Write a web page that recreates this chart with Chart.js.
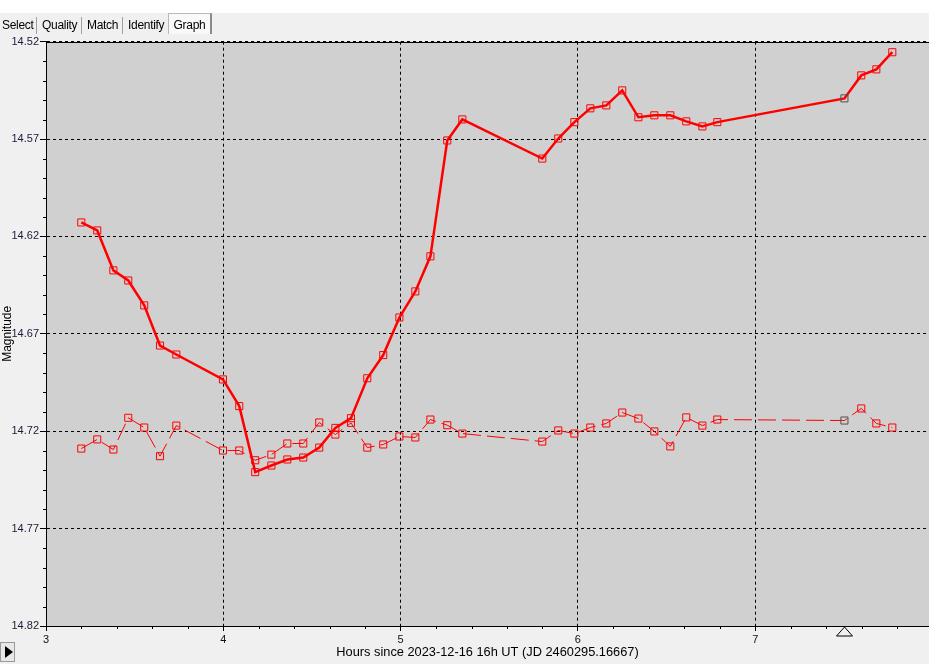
<!DOCTYPE html>
<html>
<head>
<meta charset="utf-8">
<script src="https://cdn.jsdelivr.net/npm/chart.js@4"></script>
<style>
  html, body { margin:0; padding:0; background:#f0f0f0; width:929px; height:664px; overflow:hidden; font-family:"Liberation Sans", Arial, sans-serif; }
  #topstrip { position:absolute; left:0; top:0; width:929px; height:13px; background:#ffffff; }
  #tabs { position:absolute; left:0; top:13px; height:21px; width:929px; font-size:12px; letter-spacing:-0.3px; color:#000; }
  .tab { position:absolute; top:0; height:21px; line-height:25px; }
  .sep { position:absolute; top:4px; width:1px; height:17px; background:#a0a0a0; }
  .seld { position:absolute; top:0; height:20px; line-height:22px; background:#f9f9f9; border:1px solid #b8b8b8; border-bottom:none; border-right:2px solid #8a8a8a; text-align:center; }
  #chart { position:absolute; left:0; top:0; }
  #btn { position:absolute; left:0; top:642px; width:15px; height:20px; background:#e8e8e8; border:1px solid #9a9a9a; box-sizing:border-box; }
  #btn:after { content:""; position:absolute; left:4px; top:3px; border-left:8px solid #000; border-top:6px solid transparent; border-bottom:6px solid transparent; }
</style>
</head>
<body>
<div id="topstrip"></div>
<canvas id="chart" width="935" height="664"></canvas>
<div id="tabs">
  <div class="tab" style="left:2px">Select</div>
  <div class="sep" style="left:36px"></div>
  <div class="tab" style="left:42px">Quality</div>
  <div class="sep" style="left:81px"></div>
  <div class="tab" style="left:87px">Match</div>
  <div class="sep" style="left:122px"></div>
  <div class="tab" style="left:128px">Identify</div>
  <div class="seld" style="left:168px; width:41px">Graph</div>
</div>
<div id="btn"></div>
<script>
// ---- data ----
const hours = [3.199, 3.289, 3.380, 3.464, 3.554, 3.643, 3.735, 3.998, 4.090, 4.180,
               4.271, 4.361, 4.451, 4.541, 4.632, 4.720, 4.812, 4.902, 4.993, 5.083,
               5.168, 5.263, 5.348, 5.799, 5.889, 5.980, 6.070, 6.160, 6.250, 6.341,
               6.431, 6.521, 6.611, 6.702, 6.786, 7.503, 7.598, 7.683, 7.773];
const targetMag = [14.6128, 14.6169, 14.6374, 14.6426, 14.6554, 14.6760, 14.6806, 14.6934, 14.7071, 14.7410,
                   14.7376, 14.7345, 14.7335, 14.7284, 14.7183, 14.7133, 14.6928, 14.6809, 14.6616, 14.6482,
                   14.6302, 14.5707, 14.5599, 14.5800, 14.5697, 14.5613, 14.5542, 14.5527, 14.5450, 14.5588,
                   14.5578, 14.5578, 14.5609, 14.5635, 14.5613, 14.5491, 14.5373, 14.5342, 14.5254];
const checkMag = [14.7289, 14.7242, 14.7294, 14.7131, 14.7181, 14.7328, 14.7171, 14.7299, 14.7299, 14.7349,
                  14.7320, 14.7263, 14.7263, 14.7155, 14.7217, 14.7157, 14.7284, 14.7268, 14.7227, 14.7232,
                  14.7140, 14.7169, 14.7212, 14.7253, 14.7196, 14.7212, 14.7181, 14.7160, 14.7104, 14.7135,
                  14.7201, 14.7278, 14.7129, 14.7171, 14.7140, 14.7145, 14.7083, 14.7160, 14.7181];
const xTickValues = [3, 4, 5, 6, 7];
const yTickValues = [14.52, 14.57, 14.62, 14.67, 14.72, 14.77, 14.82];
const selectedHour = 7.5;
const xLabel = "Hours since 2023-12-16 16h UT (JD 2460295.16667)";
const yLabel = "Magnitude";

const selIndex = hours.findIndex(h => Math.abs(h - selectedHour) < 0.02);
const markerColors = hours.map((h, i) => i === selIndex ? '#505050' : '#ff0000');

const toPts = arr => hours.map((h, i) => ({x: h, y: arr[i]}));

const plotDeco = {
  id: 'plotDeco',
  beforeDraw(chart) {
    const {ctx, chartArea: a} = chart;
    ctx.save();
    ctx.fillStyle = '#d0d0d0';
    ctx.fillRect(a.left, a.top, a.right - a.left, a.bottom - a.top);
    ctx.restore();
  },
  afterDraw(chart) {
    const {ctx, chartArea: a, scales: {x, y}} = chart;
    ctx.save();
    ctx.strokeStyle = '#000';
    ctx.lineWidth = 1;
    ctx.setLineDash([]);
    ctx.beginPath();
    ctx.moveTo(a.left, Math.round(a.top) + 0.5);
    ctx.lineTo(a.right, Math.round(a.top) + 0.5);
    ctx.stroke();
    ctx.beginPath();
    for (let k = 0; k * 0.2 + x.min <= x.max + 1e-9; k++) {
      if (k % 5 === 0) continue;
      const px = Math.round(x.getPixelForValue(x.min + k * 0.2)) + 0.5;
      ctx.moveTo(px, a.bottom);
      ctx.lineTo(px, a.bottom + 3);
    }
    for (let k = 0; k <= 30; k++) {
      if (k % 5 === 0) continue;
      const py = Math.round(y.getPixelForValue(y.min + k * 0.01)) + 0.5;
      ctx.moveTo(a.left - 3, py);
      ctx.lineTo(a.left, py);
    }
    ctx.stroke();
    const tx = Math.round(x.getPixelForValue(selectedHour)) + 0.5;
    const ty = a.bottom + 1;
    ctx.beginPath();
    ctx.moveTo(tx, ty);
    ctx.lineTo(tx + 8, ty + 9);
    ctx.lineTo(tx - 8, ty + 9);
    ctx.closePath();
    ctx.stroke();
    ctx.restore();
  }
};

new Chart(document.getElementById('chart'), {
  type: 'line',
  data: {
    datasets: [
      {
        label: 'check',
        data: toPts(checkMag),
        borderColor: '#ff0000',
        borderWidth: 1,
        borderDash: [18, 6],
        pointStyle: 'rect',
        pointRadius: 5,
        pointBorderWidth: 1,
        pointBorderColor: markerColors,
        pointBackgroundColor: 'rgba(0,0,0,0)',
        tension: 0,
        fill: false
      },
      {
        label: 'target',
        data: toPts(targetMag),
        borderColor: '#ff0000',
        borderWidth: 2.5,
        pointStyle: 'rect',
        pointRadius: 5,
        pointBorderWidth: 1,
        pointBorderColor: markerColors,
        pointBackgroundColor: 'rgba(0,0,0,0)',
        tension: 0,
        fill: false
      }
    ]
  },
  options: {
    responsive: false,
    animation: false,
    devicePixelRatio: 1,
    layout: { padding: { top: 41.7, right: 0, bottom: 0, left: 0 } },
    plugins: { legend: { display: false }, tooltip: { enabled: false } },
    scales: {
      x: {
        type: 'linear',
        min: 3,
        max: 7.98,
        afterBuildTicks: s => { s.ticks = xTickValues.map(v => ({value: v})); },
        afterFit: s => { s.height = 38; s.paddingRight = 0; s.paddingLeft = 0; },
        ticks: {
          callback: v => String(v),
          color: '#111',
          font: { family: 'Liberation Sans', size: 11 },
          padding: 2,
          maxRotation: 0,
          autoSkip: false
        },
        grid: {
          color: '#000',
          lineWidth: 1,
          borderDash: [3, 3],
          tickLength: 5,
          tickColor: '#000',
          tickBorderDash: []
        },
        border: { display: true, color: '#000', width: 1, dash: [3, 3] },
        title: {
          display: true,
          text: xLabel,
          color: '#000',
          font: { family: 'Liberation Sans', size: 12.8 },
          padding: { top: 0, bottom: 4 }
        }
      },
      y: {
        type: 'linear',
        reverse: true,
        min: 14.52,
        max: 14.82,
        afterBuildTicks: s => { s.ticks = yTickValues.map(v => ({value: v})); },
        afterFit: s => { s.width = 46; s.paddingTop = 0; s.paddingBottom = 0; },
        ticks: {
          callback: v => Number(v).toFixed(2),
          color: '#1a1a3a',
          font: { family: 'Liberation Sans', size: 11 },
          padding: 1,
          autoSkip: false
        },
        grid: {
          color: '#000',
          lineWidth: 1,
          borderDash: [3, 3],
          tickLength: 6,
          tickColor: '#000',
          tickBorderDash: []
        },
        border: { display: true, color: '#000', width: 1, dash: [3, 3] },
        title: {
          display: true,
          text: yLabel,
          color: '#000',
          font: { family: 'Liberation Sans', size: 12 },
          padding: { top: 0, bottom: 0 }
        }
      }
    }
  },
  plugins: [plotDeco]
});
</script>
</body>
</html>
